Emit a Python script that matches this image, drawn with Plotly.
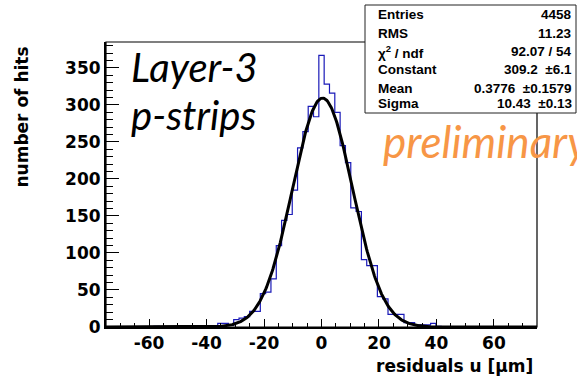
import numpy as np
import plotly.graph_objects as go

# ---------------- data ----------------
x_min, x_max, n_bins = -75.0, 75.0, 81
counts = [0, 0, 0, 0, 0, 0, 0, 0, 0, 1,
          0, 0, 0, 0, 0, 1, 1, 0, 0, 0,
          1, 5, 5, 2, 10, 12, 14, 21, 21, 45,
          47, 65, 110, 144, 152, 185, 242, 264, 298, 284,
          367, 328, 316, 290, 245, 222, 161, 156, 91, 83,
          83, 41, 38, 17, 17, 17, 6, 6, 3, 3,
          3, 5, 1, 0, 0, 0, 0, 0, 0, 0,
          0, 0, 0, 0, 0, 0, 0, 0, 0, 0, 0]
fit_constant, fit_mean, fit_sigma = 309.2, 0.3776, 10.43
stats_labels = ["Entries", "RMS", "χ<sup>2</sup> / ndf", "Constant", "Mean", "Sigma"]
stats_values = ["4458", "11.23", "92.07 / 54", "309.2  ±6.1", "0.3776  ±0.1579", "10.43  ±0.13"]
x_ticks = [-60, -40, -20, 0, 20, 40, 60]
x_tick_labels = ["-60", "-40", "-20", "0", "20", "40", "60"]
y_ticks = [0, 50, 100, 150, 200, 250, 300, 350]
y_tick_labels = ["0", "50", "100", "150", "200", "250", "300", "350"]

# ---------------- layout geometry (pixels) ----------------
W, H = 577, 378
L, R, T, B = 106, 537, 42, 327
def px(x): return (x - L) / (R - L)
def py(y): return (B - y) / (B - T)

edges = np.linspace(x_min, x_max, n_bins + 1)
centers = 0.5 * (edges[:-1] + edges[1:])
hx = [x_min] + list(centers) + [x_max]
hy = [counts[0]] + list(counts) + [counts[-1]]

xf = np.linspace(x_min, x_max, 600)
yf = fit_constant * np.exp(-0.5 * ((xf - fit_mean) / fit_sigma) ** 2)

fig = go.Figure()
fig.add_trace(go.Scatter(x=hx, y=hy, mode="lines", line=dict(color="#1a1ab8", width=1.2, shape="hvh"),
                         hoverinfo="skip", showlegend=False))
fig.add_trace(go.Scatter(x=xf, y=yf, mode="lines", line=dict(color="black", width=3),
                         hoverinfo="skip", showlegend=False))

tickfont = dict(family="DejaVu Sans, sans-serif", size=17, color="black", weight="bold")
fig.update_layout(
    width=W, height=H,
    margin=dict(l=L, r=W - R, t=T, b=H - B),
    paper_bgcolor="white", plot_bgcolor="white",
    xaxis=dict(range=[x_min, x_max], tickvals=x_ticks, ticktext=x_tick_labels, ticks="inside",
               ticklen=8, tickwidth=1, tickcolor="black", showgrid=False, zeroline=False,
               showline=True, linecolor="black", linewidth=2, tickfont=tickfont,
               minor=dict(dtick=5, ticks="inside", ticklen=4, tickcolor="black", tickwidth=1)),
    yaxis=dict(range=[0, 385], tickvals=y_ticks, ticktext=y_tick_labels, ticks="inside",
               ticklen=13, tickwidth=1, tickcolor="black", showgrid=False, zeroline=False,
               showline=True, linecolor="black", linewidth=2, tickfont=tickfont, ticklabelstandoff=0,
               minor=dict(dtick=10, ticks="inside", ticklen=6.5, tickcolor="black", tickwidth=1)),
)

shapes = []
shapes.append(dict(type="rect", xref="paper", yref="paper", x0=0, x1=1, y0=0, y1=1,
                   line=dict(color="black", width=1.2), fillcolor="rgba(0,0,0,0)", layer="above"))
shapes.append(dict(type="rect", xref="paper", yref="paper", x0=px(365), x1=px(576), y0=py(113), y1=py(5),
                   line=dict(color="#222222", width=1), fillcolor="white", layer="above"))
fig.update_layout(shapes=shapes)

ann = []
sfont = dict(family="Liberation Sans, Arial, sans-serif", size=13.5, color="black", weight="bold")
rows_y = [15, 33.5, 51.7, 69.5, 88.3, 103.5]
for lab, val, yy in zip(stats_labels, stats_values, rows_y):
    ann.append(dict(text=lab, x=px(376), y=py(yy), xref="paper", yref="paper", xanchor="left",
                    yanchor="middle", showarrow=False, font=sfont))
    ann.append(dict(text=val, x=px(573.5), y=py(yy), xref="paper", yref="paper", xanchor="right",
                    yanchor="middle", showarrow=False, font=sfont))

ifont = dict(family="Lato, Open Sans, sans-serif", size=40, color="black", style="italic")
ann.append(dict(text="Layer-3", x=px(129), y=py(67), xref="paper", yref="paper", xanchor="left",
                yanchor="middle", showarrow=False, font=ifont))
ann.append(dict(text="p-strips", x=px(129), y=py(115), xref="paper", yref="paper", xanchor="left",
                yanchor="middle", showarrow=False, font=ifont))
ann.append(dict(text="preliminary", x=px(381), y=py(141), xref="paper", yref="paper", xanchor="left",
                yanchor="middle", showarrow=False,
                font=dict(family="Lato, Open Sans, sans-serif", size=44, color="#F79646", style="italic")))

tfont = dict(family="DejaVu Sans, sans-serif", size=17, color="black", weight="bold")
ann.append(dict(text="residuals u [μm]", x=px(535), y=py(366), xref="paper", yref="paper",
                xanchor="right", yanchor="middle", showarrow=False, font=tfont))
ann.append(dict(text="number of hits", x=px(21), y=py(45), xref="paper", yref="paper",
                xanchor="center", yanchor="top", textangle=-90, showarrow=False, font=tfont))
fig.update_layout(annotations=ann)

fig.write_html("out.html", config={"displayModeBar": False},
               post_script="document.body.style.margin='0';document.body.style.overflow='hidden';")
